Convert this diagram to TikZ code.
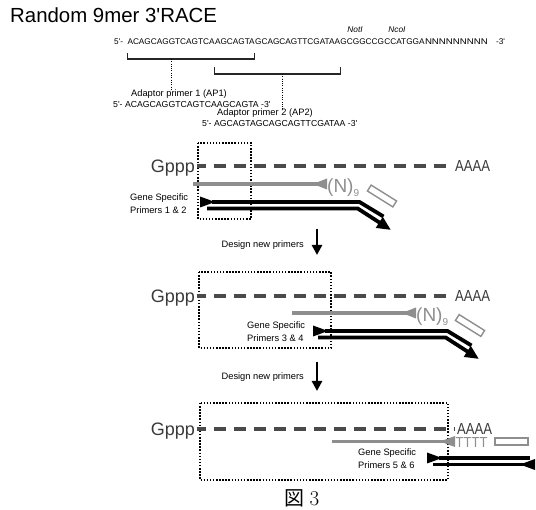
\documentclass[tikz,border=0pt]{standalone}
\usepackage{fontspec}
\newfontfamily\lsans{Liberation Sans}
\newfontfamily\cjk{Noto Sans CJK JP}
\usetikzlibrary{arrows.meta,calc}
\definecolor{dgray}{HTML}{4A4A4A}
\definecolor{mgray}{HTML}{8E8E8E}
\definecolor{tgray}{HTML}{3A3A3A}
\begin{document}
\begin{tikzpicture}[x=1pt,y=-1pt,
  seqtxt/.style={inner sep=0pt, anchor=base west, font=\lsans\fontsize{8.25}{10}\selectfont},
  enz/.style={inner sep=0pt, anchor=base west, font=\lsans\itshape\fontsize{8.3}{9}\selectfont},
  aptxt/.style={inner sep=0pt, anchor=west, font=\lsans\fontsize{9.3}{11}\selectfont},
  apseq/.style={inner sep=0pt, anchor=west, font=\lsans\fontsize{8.7}{10}\selectfont},
  gstxt/.style={inner sep=0pt, align=left, font=\lsans\fontsize{9.3}{13}\selectfont},
  gppp/.style={inner sep=0pt, outer sep=1.5pt, anchor=east, text=tgray, text height=12.9pt, text depth=0pt, font=\lsans\fontsize{18}{20}\selectfont},
  polya/.style={inner sep=0pt, outer sep=0pt, anchor=west, text=tgray, text height=11.5pt, text depth=0pt, font=\lsans\fontsize{16}{18}\selectfont},
  ntxt/.style={inner sep=0pt, anchor=west, text=mgray, text height=13.6pt, text depth=0pt, font=\lsans\fontsize{19}{20}\selectfont},
  ttxt/.style={inner sep=0pt, anchor=west, text=mgray, text height=10.5pt, text depth=0pt, font=\lsans\fontsize{14.5}{16}\selectfont},
  adapt/.style={draw=mgray, line width=1.4pt, minimum width=30pt, minimum height=7pt, inner sep=0pt},
  regionbox/.style={draw=black, line width=1.5pt, dash pattern=on 1.5pt off 1.6pt},
  mrna/.style={draw=dgray, line width=4pt, dash pattern=on 12pt off 8pt, dash phase=3pt},
  gline/.style={draw=mgray, line width=3.6pt},
  bline/.style={draw=black, line width=3.8pt},
  bracket/.style={draw=black!85, line width=1.1pt},
  lead/.style={draw=black, line width=1pt, dash pattern=on 1pt off 1.3pt},
  flow/.style={draw=black, line width=2.6pt, -{Triangle[length=10pt,width=10pt]}},
]
\useasboundingbox (0,0) rectangle (536,510);

% title
\node[anchor=base west, inner sep=0pt, font=\lsans\fontsize{20.4}{24}\selectfont] (title) at (10,22.3) {Random 9mer 3'RACE};

% adaptor sequence
\node[seqtxt] (s0) at (114,44.8) {5'-};
\node[seqtxt] (s1) at ([xshift=4pt]s0.base east) {ACAGCAGGTCAGTCA};
\node[seqtxt] (s2) at (s1.base east) {AGCAGTA};
\node[seqtxt] (s3) at (s2.base east) {GCAGCAGTTCGATAA};
\node[seqtxt] (s4) at (s3.base east) {GCGGCCG};
\node[seqtxt] (s5) at (s4.base east) {CCATGGA};
\node[seqtxt] (s6) at (s5.base east) {\scalebox{1.17}[1]{NNNNNNNNN}};
\node[seqtxt] (s7) at ([xshift=8pt]s6.base east) {-3'};
\node[enz] (noti) at ([xshift=7pt,yshift=12.5pt]s4.base west) {NotI};
\node[enz] (ncoi) at ([xshift=4pt,yshift=12.5pt]s5.base west) {NcoI};

% brackets
\coordinate (yb1t) at (0,53);
\coordinate (yb1b) at (0,59);
\coordinate (yb2t) at (0,67);
\coordinate (yb2b) at (0,74);
\draw[bracket] (s1.west |- yb1t) -- (s1.west |- yb1b) -- (s2.east |- yb1b) -- (s2.east |- yb1t);
\draw[bracket] (s2.west |- yb2t) -- (s2.west |- yb2b) -- (s3.east |- yb2b) -- (s3.east |- yb2t);

% adaptor primers
\node[aptxt] (ap1) at (131,94) {Adaptor primer 1 (AP1)};
\node[apseq] (ap1s) at (113,105) {5'- ACAGCAGGTCAGTCAAGCAGTA -3'};
\node[aptxt] (ap2) at (217,113.5) {Adaptor primer 2 (AP2)};
\node[apseq] (ap2s) at (202,123.5) {5'- AGCAGTAGCAGCAGTTCGATAA -3'};
\coordinate (l1) at (171,59);
\coordinate (l2) at (282,74);
\draw[lead] (l1) -- (l1 |- ap1.north);
\draw[lead] (l2) -- (l2 |- ap2.north);

% ---------- panel 1
\draw[regionbox] (198,143) rectangle (251,219);
\node[gppp] (g1) at (196.5,166) {Gppp};
\node[polya] (a1) at (455,166) {\scalebox{0.82}[1]{AAAA}};
\draw[mrna] (g1) -- ([xshift=-2pt]a1.west);
\coordinate (p1gs) at (193,184);
\coordinate (p1gt) at (313,184);
\draw[gline] (p1gs) -- ([xshift=6pt]p1gt);
\fill[mgray] (p1gt) -- ++(14,-5.5) -- ++(0,11) -- cycle;
\node[ntxt] (n1) at (327,186) {(N)\raisebox{-3.5pt}{\fontsize{10}{10}\selectfont 9}};
\node[adapt, rotate=-32] (r1) at (382,196) {};
\coordinate (p1ta) at (200,202);
\fill (p1ta) ++(0,-5.5) -- ++(15,5.5) -- ++(-15,5.5) -- cycle;
\draw[bline] ([xshift=12pt]p1ta) -- (359.5,202) -- (383.5,216.5);
\draw[bline, -{Triangle[length=14pt,width=12pt]}] (207,208.5) -- (357.7,208.5) -- (391,230);
\node[gstxt, anchor=west] (gs1) at (130,203.5) {Gene Specific\\Primers 1 \& 2};

% flow 1
\node[gstxt, anchor=east] (d1) at (304,245) {Design new primers};
\coordinate (f1s) at (317,229);
\coordinate (f1e) at (317,255);
\draw[flow] (f1s) -- (f1e);

% ---------- panel 2
\draw[regionbox] (199,272) rectangle (331,348);
\node[gppp] (g2) at (196.5,296) {Gppp};
\node[polya] (a2) at (455,296) {\scalebox{0.82}[1]{AAAA}};
\draw[mrna] (g2) -- ([xshift=-2pt]a2.west);
\coordinate (p2gs) at (292,313);
\coordinate (p2gt) at (402,313);
\draw[gline] (p2gs) -- ([xshift=6pt]p2gt);
\fill[mgray] (p2gt) -- ++(14,-5.5) -- ++(0,11) -- cycle;
\node[ntxt] (n2) at (416,315) {(N)\raisebox{-3.5pt}{\fontsize{10}{10}\selectfont 9}};
\node[adapt, rotate=-32] (r2) at (470,325.5) {};
\coordinate (p2ta) at (313,331);
\fill (p2ta) ++(0,-5.5) -- ++(15,5.5) -- ++(-15,5.5) -- cycle;
\draw[bline] ([xshift=12pt]p2ta) -- (447.5,331) -- (471.5,345.5);
\draw[bline, -{Triangle[length=14pt,width=12pt]}] (318,337.5) -- (445.7,337.5) -- (479,359);
\node[gstxt, anchor=west] (gs2) at (247,331.5) {Gene Specific\\Primers 3 \& 4};

% flow 2
\node[gstxt, anchor=east] (d2) at (304,377) {Design new primers};
\coordinate (f2s) at (317,362);
\coordinate (f2e) at (317,391);
\draw[flow] (f2s) -- (f2e);

% ---------- panel 3
\draw[regionbox] (200,403) rectangle (448,480);
\node[gppp] (g3) at (196.5,429) {Gppp};
\node[polya] (a3) at (457,428.5) {\scalebox{0.82}[1]{AAAA}};
\draw[mrna] (g3) -- ([xshift=-2pt]g3 -| a3.west);
\coordinate (p3gs) at (332,441.5);
\coordinate (p3gt) at (440,441.5);
\draw[gline] (p3gs) -- ([xshift=6pt]p3gt);
\fill[mgray] (p3gt) -- ++(15,-5.5) -- ++(0,11) -- cycle;
\node[ttxt] (t3) at (455.5,442.5) {\scalebox{0.9}[1]{TTTT}};
\node[adapt, minimum width=33pt] (r3) at (511.5,441.5) {};
\coordinate (p3ta) at (427,458);
\fill (p3ta) ++(0,-5.5) -- ++(15,5.5) -- ++(-15,5.5) -- cycle;
\draw[bline] ([xshift=12pt]p3ta) -- (530,458);
\coordinate (p3bt) at (520,464.5);
\draw[bline] (433,464.5) -- ([xshift=5pt]p3bt);
\fill (p3bt) -- ++(15,-5.5) -- ++(0,11) -- cycle;
\node[gstxt, anchor=west] (gs3) at (358,458.5) {Gene Specific\\Primers 5 \& 6};

% caption
\node[inner sep=0pt] (fig) at (302,498) {{\cjk\fontsize{20}{22}\selectfont 図}\hspace{5pt}{\fontsize{21}{22}\selectfont 3}};
\end{tikzpicture}
\end{document}
